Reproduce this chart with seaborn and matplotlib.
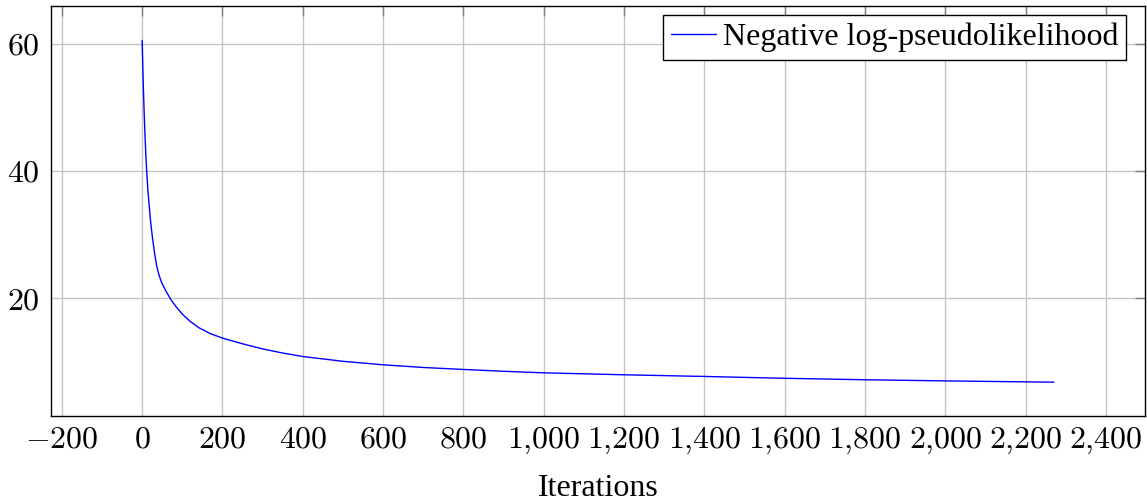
import matplotlib
matplotlib.use("Agg")
import matplotlib.pyplot as plt
import seaborn as sns
import pandas as pd
from matplotlib.ticker import FuncFormatter, MultipleLocator

# Data
iterations = [0, 1, 2, 3, 4, 5, 7, 9, 11, 14, 17, 21, 26, 31, 36, 42, 48, 60, 72,
              86, 101, 120, 142, 170, 200, 250, 300, 350, 400, 500, 600, 700, 800,
              900, 1000, 1200, 1400, 1600, 1800, 2000, 2270]
neg_log_pl = [60.5, 57.8, 55.4, 53.1, 51.0, 49.1, 45.7, 42.7, 40.2, 37.2, 34.9,
              32.0, 29.3, 27.0, 25.1, 23.6, 22.5, 21.0, 19.7, 18.5, 17.4, 16.3,
              15.3, 14.4, 13.7, 12.8, 12.0, 11.35, 10.8, 10.05, 9.5, 9.08, 8.77,
              8.48, 8.24, 7.93, 7.67, 7.38, 7.15, 6.97, 6.77]
series_label = "Negative log-pseudolikelihood"
x_label = "Iterations"

df = pd.DataFrame({"Iterations": iterations, "value": neg_log_pl})

sns.set_style("white")
plt.rcParams["mathtext.fontset"] = "cm"
plt.rcParams["font.family"] = ["Liberation Serif", "DejaVu Serif"]

fig = plt.figure(figsize=(11.47, 5.03), dpi=100)
ax = fig.add_axes([51 / 1147, 1 - 415.7 / 503, (1145 - 51) / 1147, (415.7 - 6) / 503])

sns.lineplot(data=df, x="Iterations", y="value", ax=ax, color="#0000ff",
             linewidth=1.0, estimator=None, sort=False, label=series_label)

ax.set_xlim(-227, 2497)
ax.set_ylim(1.5, 65.9)
ax.xaxis.set_major_locator(MultipleLocator(200))
ax.yaxis.set_major_locator(MultipleLocator(20))

def fmt(v, pos):
    s = f"{int(round(v)):,}".replace(",", "{,}")
    return f"${s}$"

ax.xaxis.set_major_formatter(FuncFormatter(fmt))
ax.yaxis.set_major_formatter(FuncFormatter(fmt))

ax.grid(True, color="#c4c4c4", linewidth=1.0)
ax.set_axisbelow(True)
for sp in ax.spines.values():
    sp.set_color("black")
    sp.set_linewidth(1.0)

ax.tick_params(axis="both", which="major", direction="in", length=7, width=1.0,
               color="#808080", labelsize=23, top=True, right=True,
               labelcolor="black")
ax.tick_params(axis="x", pad=7)
ax.tick_params(axis="y", pad=8)

ax.set_xlabel(x_label, fontsize=23, labelpad=13, color="black",
              family=["Liberation Serif", "DejaVu Serif"])
ax.set_ylabel("")

leg = ax.legend(loc="upper right", bbox_to_anchor=((1126 - 51) / 1094, 1 - 9 / 409.7),
                borderaxespad=0, frameon=True, fancybox=False, framealpha=1,
                edgecolor="black", handlelength=1.4, handletextpad=0.2,
                borderpad=0.25, prop={"family": ["Liberation Serif"], "size": 23})
leg.get_frame().set_linewidth(1.0)
for t in leg.get_texts():
    t.set_color("black")

fig.savefig("out.png", dpi=100)
